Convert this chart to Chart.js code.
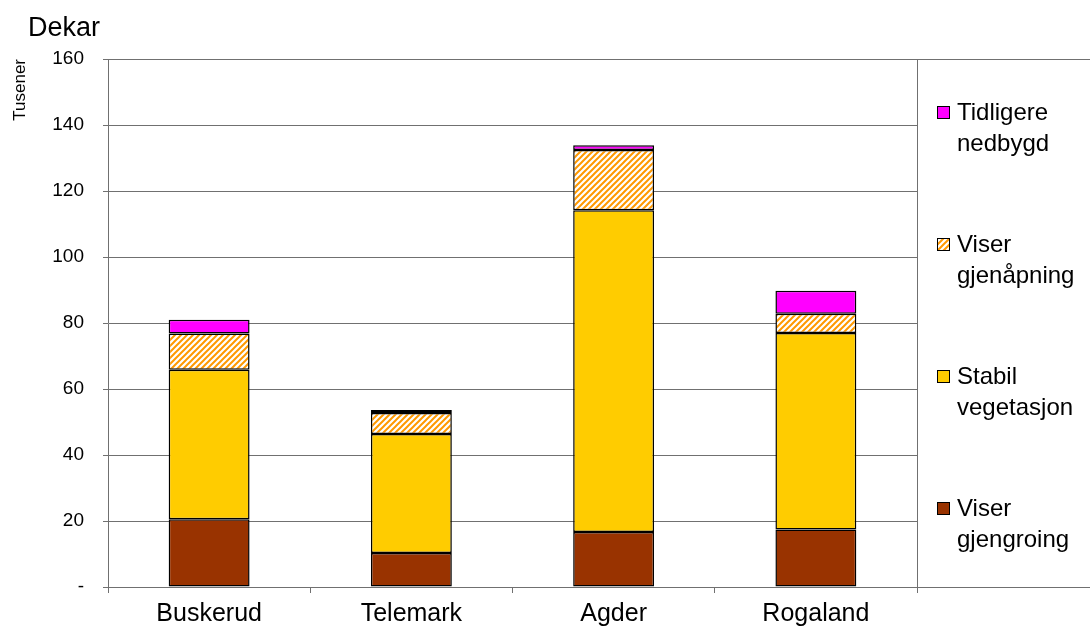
<!DOCTYPE html>
<html>
<head>
<meta charset="utf-8">
<script src="https://cdn.jsdelivr.net/npm/chart.js@4/dist/chart.umd.min.js"></script>
<style>
  html, body { margin: 0; padding: 0; background: #fff; }
  #wrap { width: 1090px; height: 630px; position: relative; }
</style>
</head>
<body>
<div id="wrap"><canvas id="chart"></canvas></div>
<script>
// fylker og arealer (tusen dekar)
const regions = ['Buskerud', 'Telemark', 'Agder', 'Rogaland'];
const gjengroing = [20.5, 10.3, 16.7, 17.4];
const stabil = [45.3, 36.1, 97.5, 59.6];
const gjenapning = [11.0, 6.3, 18.2, 5.8];
const nedbygd = [4.2, 0.9, 1.5, 7.0];
const yTicks = [0, 20, 40, 60, 80, 100, 120, 140, 160];

const FONT = '"Liberation Sans", Arial, sans-serif';

// skravert mønster for "Viser gjenåpning"
function makeHatch() {
  const c = document.createElement('canvas');
  c.width = 6; c.height = 6;
  const g = c.getContext('2d');
  g.fillStyle = '#fff';
  g.fillRect(0, 0, 6, 6);
  g.strokeStyle = '#FF9900';
  g.lineWidth = 2;
  g.beginPath();
  g.moveTo(-1, 7); g.lineTo(7, -1);
  g.moveTo(-4, 4); g.lineTo(4, -4);
  g.moveTo(2, 10); g.lineTo(10, 2);
  g.stroke();
  return g.createPattern(c, 'repeat');
}
const hatch = makeHatch();

// ramme, legende og overskrift
const extras = {
  id: 'extras',
  afterDraw(chart) {
    const ctx = chart.ctx;
    const a = chart.chartArea;
    ctx.save();
    ctx.strokeStyle = '#707070';
    ctx.lineWidth = 1;
    ctx.beginPath();
    ctx.moveTo(a.right, a.top + 0.5); ctx.lineTo(chart.width, a.top + 0.5);
    ctx.moveTo(a.right, a.bottom + 0.5); ctx.lineTo(chart.width, a.bottom + 0.5);
    ctx.moveTo(a.right + 0.5, a.top); ctx.lineTo(a.right + 0.5, a.bottom);
    ctx.stroke();

    ctx.fillStyle = '#000';
    ctx.font = '27px ' + FONT;
    ctx.textBaseline = 'alphabetic';
    ctx.fillText('Dekar', 28, 36);

    const ds = chart.data.datasets.slice().reverse();
    ctx.font = '24px ' + FONT;
    ctx.textBaseline = 'middle';
    ds.forEach((d, i) => {
      const y = 112 + i * 132;
      ctx.fillStyle = d.backgroundColor;
      ctx.fillRect(937.5, y - 5.5, 12, 12);
      ctx.strokeStyle = '#000';
      ctx.lineWidth = 1;
      ctx.strokeRect(937.5, y - 5.5, 12, 12);
      ctx.fillStyle = '#000';
      d.label.forEach((line, j) => ctx.fillText(line, 957, y + 1 + j * 31));
    });
    ctx.restore();
  }
};

const common = { borderColor: '#000', borderWidth: 1.5, borderSkipped: false, categoryPercentage: 1, barPercentage: 0.4 };

new Chart(document.getElementById('chart'), {
  type: 'bar',
  data: {
    labels: regions,
    datasets: [
      { label: ['Viser', 'gjengroing'], data: gjengroing, backgroundColor: '#993300', ...common },
      { label: ['Stabil', 'vegetasjon'], data: stabil, backgroundColor: '#FFCC00', ...common },
      { label: ['Viser', 'gjenåpning'], data: gjenapning, backgroundColor: hatch, ...common },
      { label: ['Tidligere', 'nedbygd'], data: nedbygd, backgroundColor: '#FF00FF', ...common }
    ]
  },
  options: {
    responsive: true,
    maintainAspectRatio: false,
    animation: false,
    layout: { padding: { top: 59, right: 173, left: 0, bottom: 0 } },
    plugins: { legend: { display: false }, tooltip: { enabled: false } },
    scales: {
      x: {
        stacked: true,
        afterFit(s) { s.height = 43; },
        grid: { drawOnChartArea: false, color: '#707070', tickLength: 6, offset: true },
        border: { color: '#707070' },
        ticks: { color: '#000', font: { family: FONT, size: 25 }, padding: 6 }
      },
      y: {
        stacked: true,
        min: 0, max: 160,
        afterFit(s) { s.width = 108; },
        afterBuildTicks(s) { s.ticks = yTicks.map(v => ({ value: v })); },
        grid: { color: '#707070', tickLength: 5 },
        border: { color: '#707070' },
        ticks: {
          color: '#000', font: { family: FONT, size: 19 }, padding: 19,
          callback: v => v === 0 ? '-' : v
        },
        title: {
          display: true, text: 'Tusener', align: 'end', color: '#000',
          font: { family: FONT, size: 17 }, padding: { top: 10, bottom: 0 }
        }
      }
    }
  },
  plugins: [extras]
});
</script>
</body>
</html>
